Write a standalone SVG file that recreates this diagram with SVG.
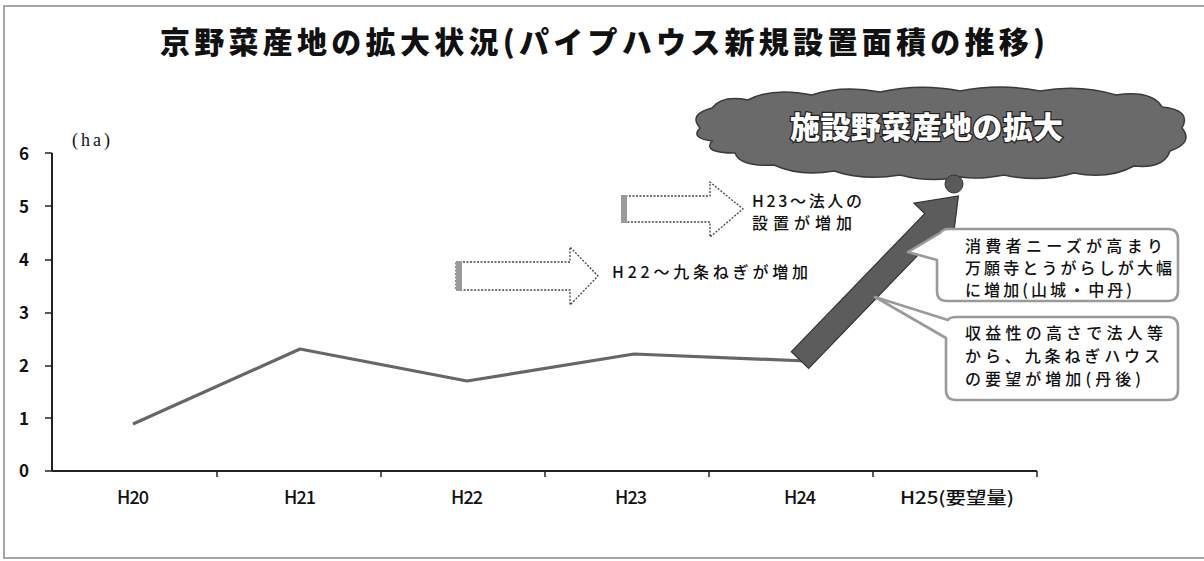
<svg xmlns="http://www.w3.org/2000/svg" width="1204" height="561" viewBox="0 0 1204 561">
<style>
.jp{font-family:"Noto Sans CJK JP","Noto Sans",sans-serif;fill:#111}
.num{font-family:"Noto Sans CJK JP","Noto Sans",sans-serif;fill:#111}
.blk{fill:#fff;stroke:#444;stroke-width:1.3;stroke-dasharray:2 1.5}
.bar{fill:#9a9a9a}
.call{fill:#fff;stroke:#9a9a9a;stroke-width:2.6;stroke-linejoin:round}
.axis{stroke:#222;stroke-width:2;fill:none}
</style>
<rect x="4" y="6" width="1220" height="552" fill="#fff" stroke="#8a8a8a" stroke-width="1.5"/>
<text class="jp" x="160" y="53" font-size="30" font-weight="900" textLength="885" lengthAdjust="spacing">京野菜産地の拡大状況(パイプハウス新規設置面積の推移)</text>

<g id="axes">
<line class="axis" x1="52" y1="153" x2="52" y2="471"/>
<line class="axis" x1="52" y1="471" x2="1037" y2="471"/>
<g stroke="#222" stroke-width="1.5">
<line x1="45" y1="153" x2="52" y2="153"/><line x1="45" y1="206" x2="52" y2="206"/>
<line x1="45" y1="260" x2="52" y2="260"/><line x1="45" y1="313" x2="52" y2="313"/>
<line x1="45" y1="366" x2="52" y2="366"/><line x1="45" y1="418" x2="52" y2="418"/>
<line x1="45" y1="471" x2="52" y2="471"/>
<line x1="217" y1="471" x2="217" y2="477"/><line x1="381" y1="471" x2="381" y2="477"/>
<line x1="545" y1="471" x2="545" y2="477"/><line x1="709" y1="471" x2="709" y2="477"/>
<line x1="873" y1="471" x2="873" y2="477"/><line x1="1037" y1="471" x2="1037" y2="477"/>
</g>
<g class="num" font-size="17" font-weight="700" text-anchor="middle">
<text x="24" y="160">6</text><text x="24" y="213">5</text><text x="24" y="266">4</text>
<text x="24" y="319">3</text><text x="24" y="372">2</text><text x="24" y="425">1</text>
<text x="24" y="477">0</text>
</g>
<text x="72" y="146" font-family="'Liberation Serif',serif" font-size="18" textLength="38" lengthAdjust="spacing" fill="#111">(ha)</text>
<g class="num" font-size="18" font-weight="500" text-anchor="middle">
<text x="133" y="504" textLength="32">H20</text><text x="300" y="504" textLength="32">H21</text><text x="467" y="504" textLength="32">H22</text>
<text x="631" y="504" textLength="32">H23</text><text x="800" y="504" textLength="32">H24</text>
</g>
<text class="jp" x="900" y="504" font-size="17" font-weight="500" textLength="114" lengthAdjust="spacingAndGlyphs">H25(要望量)</text>
</g>

<g id="connectors">
<polyline points="133,424 300,349 467,381 634,354 806,361" fill="none" stroke="#666" stroke-width="3.2" stroke-linejoin="round"/>
</g>

<g id="big-arrow">
<polygon points="0,-12 192,-12 192,-27 228,0 192,27 192,12 0,12" transform="translate(800,360) rotate(-46)" fill="#5c5c5c" stroke="#333" stroke-width="1.2"/>
</g>

<g id="cloud">
<path d="M700,128 Q688,114 712,108 Q722,95 748,100 Q772,87 812,95 Q842,85 880,92 Q920,83 960,91 Q1000,83 1040,91 Q1080,84 1116,95 Q1152,90 1162,107 Q1192,110 1182,128 Q1194,143 1170,151 Q1164,169 1134,166 Q1108,180 1074,173 Q1040,183 1004,175 Q980,180 960,177 Q930,183 900,175 Q864,181 834,171 Q800,177 774,165 Q740,167 735,153 Q702,153 712,141 Q690,138 700,128 Z" fill="#6a6a6a" stroke="#3a3a3a" stroke-width="1.5"/>
<circle cx="954" cy="184" r="9" fill="#5a5a5a" stroke="#333" stroke-width="1"/>
<text class="jp" x="790" y="138" font-size="30" font-weight="900" textLength="273" lengthAdjust="spacing" style="fill:#fff;stroke:#222;stroke-width:2.5;paint-order:stroke">施設野菜産地の拡大</text>
</g>

<g id="arrow-h22">
<polygon class="blk" points="456,262 570,262 570,247 598,276 570,305 570,290 456,290"/>
<rect class="bar" x="456" y="261" width="6" height="30"/>
<text class="jp" x="612" y="278" font-size="16" font-weight="500" textLength="196" lengthAdjust="spacing">H22～九条ねぎが増加</text>
</g>

<g id="arrow-h23">
<polygon class="blk" points="622,196 710,196 710,182 743,209 710,237 710,222 622,222"/>
<rect class="bar" x="621" y="195" width="6" height="28"/>
<text class="jp" x="752" y="207" font-size="16" font-weight="500" textLength="110" lengthAdjust="spacing">H23～法人の</text>
<text class="jp" x="752" y="229" font-size="16" font-weight="500" textLength="100" lengthAdjust="spacing">設置が増加</text>
</g>

<g id="callout-1">
<path class="call" d="M948,229 H1168 Q1178,229 1178,239 V291 Q1178,301 1168,301 H947 Q937,301 937,291 V260 L908,252 L940,233 Q943,229 948,229 Z"/>
<text class="jp" font-size="16" font-weight="500">
<tspan x="965" y="252" textLength="198" lengthAdjust="spacing">消費者ニーズが高まり</tspan>
<tspan x="965" y="274" textLength="207" lengthAdjust="spacing">万願寺とうがらしが大幅</tspan>
<tspan x="965" y="296" textLength="167" lengthAdjust="spacing">に増加(山城・中丹)</tspan>
</text>
</g>

<g id="callout-2">
<path class="call" d="M956,317 H1168 Q1178,317 1178,327 V390 Q1178,400 1168,400 H956 Q946,400 946,390 V338 L875,297 L948,320 Q950,317 956,317 Z"/>
<text class="jp" font-size="16" font-weight="500">
<tspan x="965" y="339" textLength="198" lengthAdjust="spacing">収益性の高さで法人等</tspan>
<tspan x="965" y="362" textLength="195" lengthAdjust="spacing">から、九条ねぎハウス</tspan>
<tspan x="965" y="385" textLength="176" lengthAdjust="spacing">の要望が増加(丹後)</tspan>
</text>
</g>
</svg>
